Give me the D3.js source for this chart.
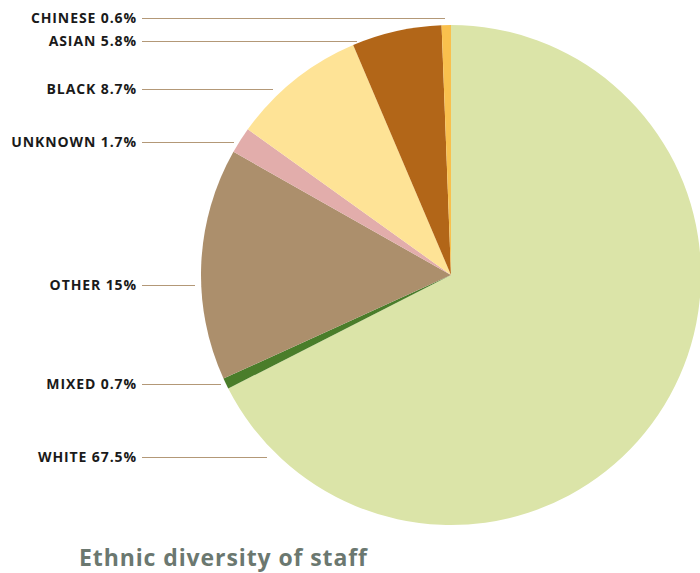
<!DOCTYPE html>
<html>
<head>
<meta charset="utf-8">
<script src="https://cdn.jsdelivr.net/npm/d3@7"></script>
<style>
  html, body { margin: 0; padding: 0; background: #fff; }
  svg { display: block; }
</style>
</head>
<body>
<svg id="chart" width="700" height="573"></svg>
<script>
// Staff ethnicity shares (%), clockwise from 12 o'clock
const categories = ["WHITE", "MIXED", "OTHER", "UNKNOWN", "BLACK", "ASIAN", "CHINESE"];
const values     = [67.5, 0.7, 15, 1.7, 8.7, 5.8, 0.6];
const valueLabels = ["67.5%", "0.7%", "15%", "1.7%", "8.7%", "5.8%", "0.6%"];
const colors     = ["#dbe4a8", "#4a7d2a", "#ac8f6c", "#e2adab", "#fee396", "#b26618", "#f9c04d"];
const title = "Ethnic diversity of staff";

// Callout layout: label baseline row and leader end (x) for each category
const labelRowY   = [457, 384, 285, 142, 89, 41, 18];
const leaderEndX  = [267, 221, 195, 234, 273, 357, 445];

const svg = d3.select("#chart");
const cx = 451, cy = 275, r = 250;

const pie = d3.pie().sort(null).value(d => d.value);
const arc = d3.arc().innerRadius(0).outerRadius(r);

const data = categories.map((c, i) => ({
  name: c, value: values[i], label: valueLabels[i], color: colors[i],
  y: labelRowY[i], x2: leaderEndX[i]
}));

const g = svg.append("g").attr("transform", `translate(${cx},${cy})`);
g.selectAll("path")
  .data(pie(data))
  .join("path")
  .attr("d", arc)
  .attr("fill", d => d.data.color);

// Leader lines
svg.append("g")
  .selectAll("line")
  .data(data)
  .join("line")
  .attr("x1", 142)
  .attr("x2", d => d.x2)
  .attr("y1", d => d.y + 0.5)
  .attr("y2", d => d.y + 0.5)
  .attr("stroke", "#b39877")
  .attr("stroke-width", 1);

// Category labels
svg.append("g")
  .selectAll("text")
  .data(data)
  .join("text")
  .attr("x", 137)
  .attr("y", d => d.y + 5)
  .attr("text-anchor", "end")
  .attr("font-family", "'Open Sans', 'Noto Sans', sans-serif")
  .attr("font-weight", 700)
  .attr("font-size", 14)
  .attr("letter-spacing", 0.9)
  .attr("fill", "#1a1a1a")
  .text(d => `${d.name} ${d.label}`);

svg.append("text")
  .attr("x", 79)
  .attr("y", 566)
  .attr("font-family", "'Open Sans', 'Noto Sans', sans-serif")
  .attr("font-weight", 700)
  .attr("font-size", 23)
  .attr("letter-spacing", 0.9)
  .attr("fill", "#6b7870")
  .text(title);
</script>
</body>
</html>
